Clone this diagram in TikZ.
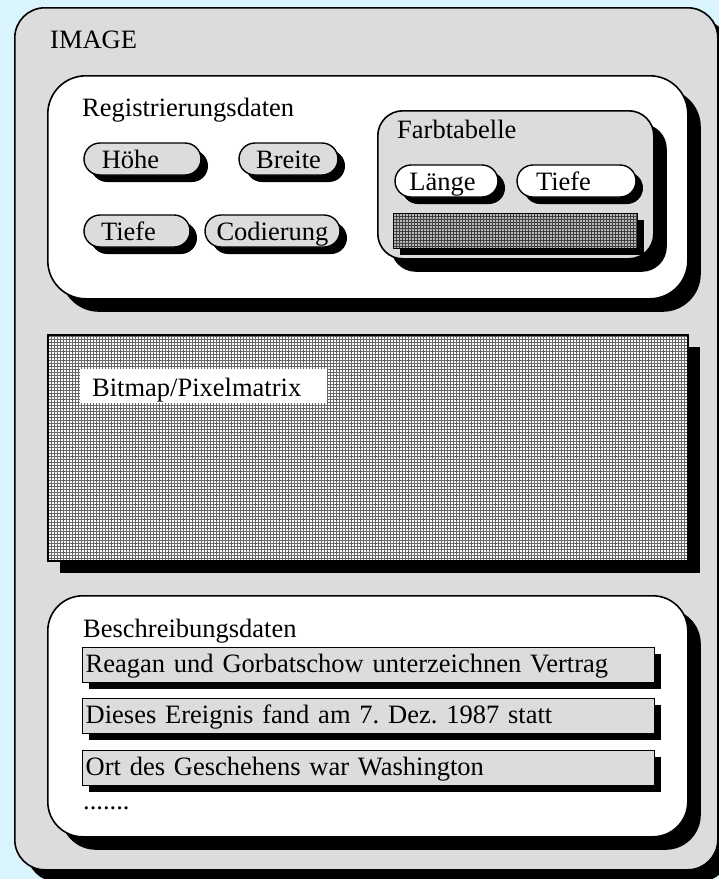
\documentclass[tikz,border=0pt]{standalone}
\usepackage{fontspec}
\setmainfont{Liberation Serif}
\usetikzlibrary{shapes.misc,shadows,patterns}

\definecolor{skyback}{HTML}{D9F4FC}
\definecolor{dotgray}{HTML}{DCDCDC}
\frenchspacing

\begin{document}
\begin{tikzpicture}[x=1pt, y=-1pt, every node/.style={font=\fontsize{26.5}{30}\selectfont},
	hardshadow/.style={drop shadow={shadow xshift=#1, shadow yshift=-#1, fill=black, opacity=1}},
	frame/.style={draw, line width=1.6pt, rounded corners=#1, anchor=north west, inner sep=0pt},
	pill/.style={rounded rectangle, draw, line width=1.4pt, minimum height=32pt, inner xsep=2pt, inner ysep=0pt, text height=22pt, text depth=4pt, hardshadow=7pt},
	textbar/.style={draw, line width=1.4pt, fill=dotgray, minimum height=35pt, inner xsep=3pt, inner ysep=0pt, text width=566pt, text height=20pt, text depth=5pt, align=left, anchor=north west, hardshadow=6pt},
	caption/.style={anchor=base west, inner sep=0pt}]
	\clip (0,0) rectangle (719,879);
	\fill[skyback] (0,0) rectangle (719,879);
	% outer frame
	\node[frame=30pt, fill=dotgray, minimum width=703pt, minimum height=862pt, hardshadow=12pt] (image) at (14,7) {};
	\node[caption] (imagelbl) at (50,48) {IMAGE};
	% registration data
	\node[frame=38pt, fill=white, minimum width=640pt, minimum height=223pt, hardshadow=13pt] (reg) at (47,75) {};
	\node[caption] (reglbl) at (82,116) {Registrierungsdaten};
	\node[pill, fill=dotgray, minimum width=121pt] (hoehe) at (142.5,159) {H\"ohe\hspace*{24pt}};
	\node[pill, fill=dotgray, minimum width=103pt] (breite) at (288.5,159) {Breite};
	\node[pill, fill=dotgray, minimum width=110pt] (tiefe) at (137,231) {Tiefe\hspace*{17pt}};
	\node[pill, fill=dotgray, minimum width=139pt] (codierung) at (272.5,231) {Codierung};
	% colour table
	\node[frame=25pt, fill=dotgray, minimum width=276pt, minimum height=148pt, hardshadow=13pt] (farb) at (377,110) {};
	\node[caption] (farblbl) at (397,138) {Farbtabelle};
	\node[pill, fill=white, minimum width=107pt] (laenge) at (446.5,181) {L\"ange\hspace*{8pt}};
	\node[pill, fill=white, minimum width=123pt] (tiefefarb) at (576.5,181) {Tiefe\hspace*{26pt}};
	\node[frame=0pt, line width=1.4pt, hardshadow=6pt, preaction={fill=gray!55}, pattern=grid, pattern color=black!75, minimum width=244pt, minimum height=35pt] (farbbar) at (393,213) {};
	% bitmap
	\node[frame=0pt, hardshadow=12pt, preaction={fill=white}, pattern=grid, pattern color=black!60, minimum width=640pt, minimum height=226pt] (bitmap) at (47,334) {};
	\node[fill=white, anchor=north west, minimum width=247pt, minimum height=34pt, inner sep=0pt] (bitmapbg) at (80,369) {};
	\node[caption] (bitmaplbl) at (92,396) {Bitmap/Pixelmatrix};
	% description data
	\node[frame=35pt, fill=white, minimum width=640pt, minimum height=241pt, hardshadow=13pt] (besch) at (47,595) {};
	\node[caption] (beschlbl) at (83,637) {Beschreibungsdaten};
	\node[textbar] (zeile1) at (82,647) {Reagan und Gorbatschow unterzeichnen Vertrag};
	\node[textbar] (zeile2) at (82,698) {Dieses Ereignis fand am 7. Dez. 1987 statt};
	\node[textbar] (zeile3) at (82,750) {Ort des Geschehens war Washington};
	\node[caption] (punkte) at (83,809) {.......};
\end{tikzpicture}
\end{document}
